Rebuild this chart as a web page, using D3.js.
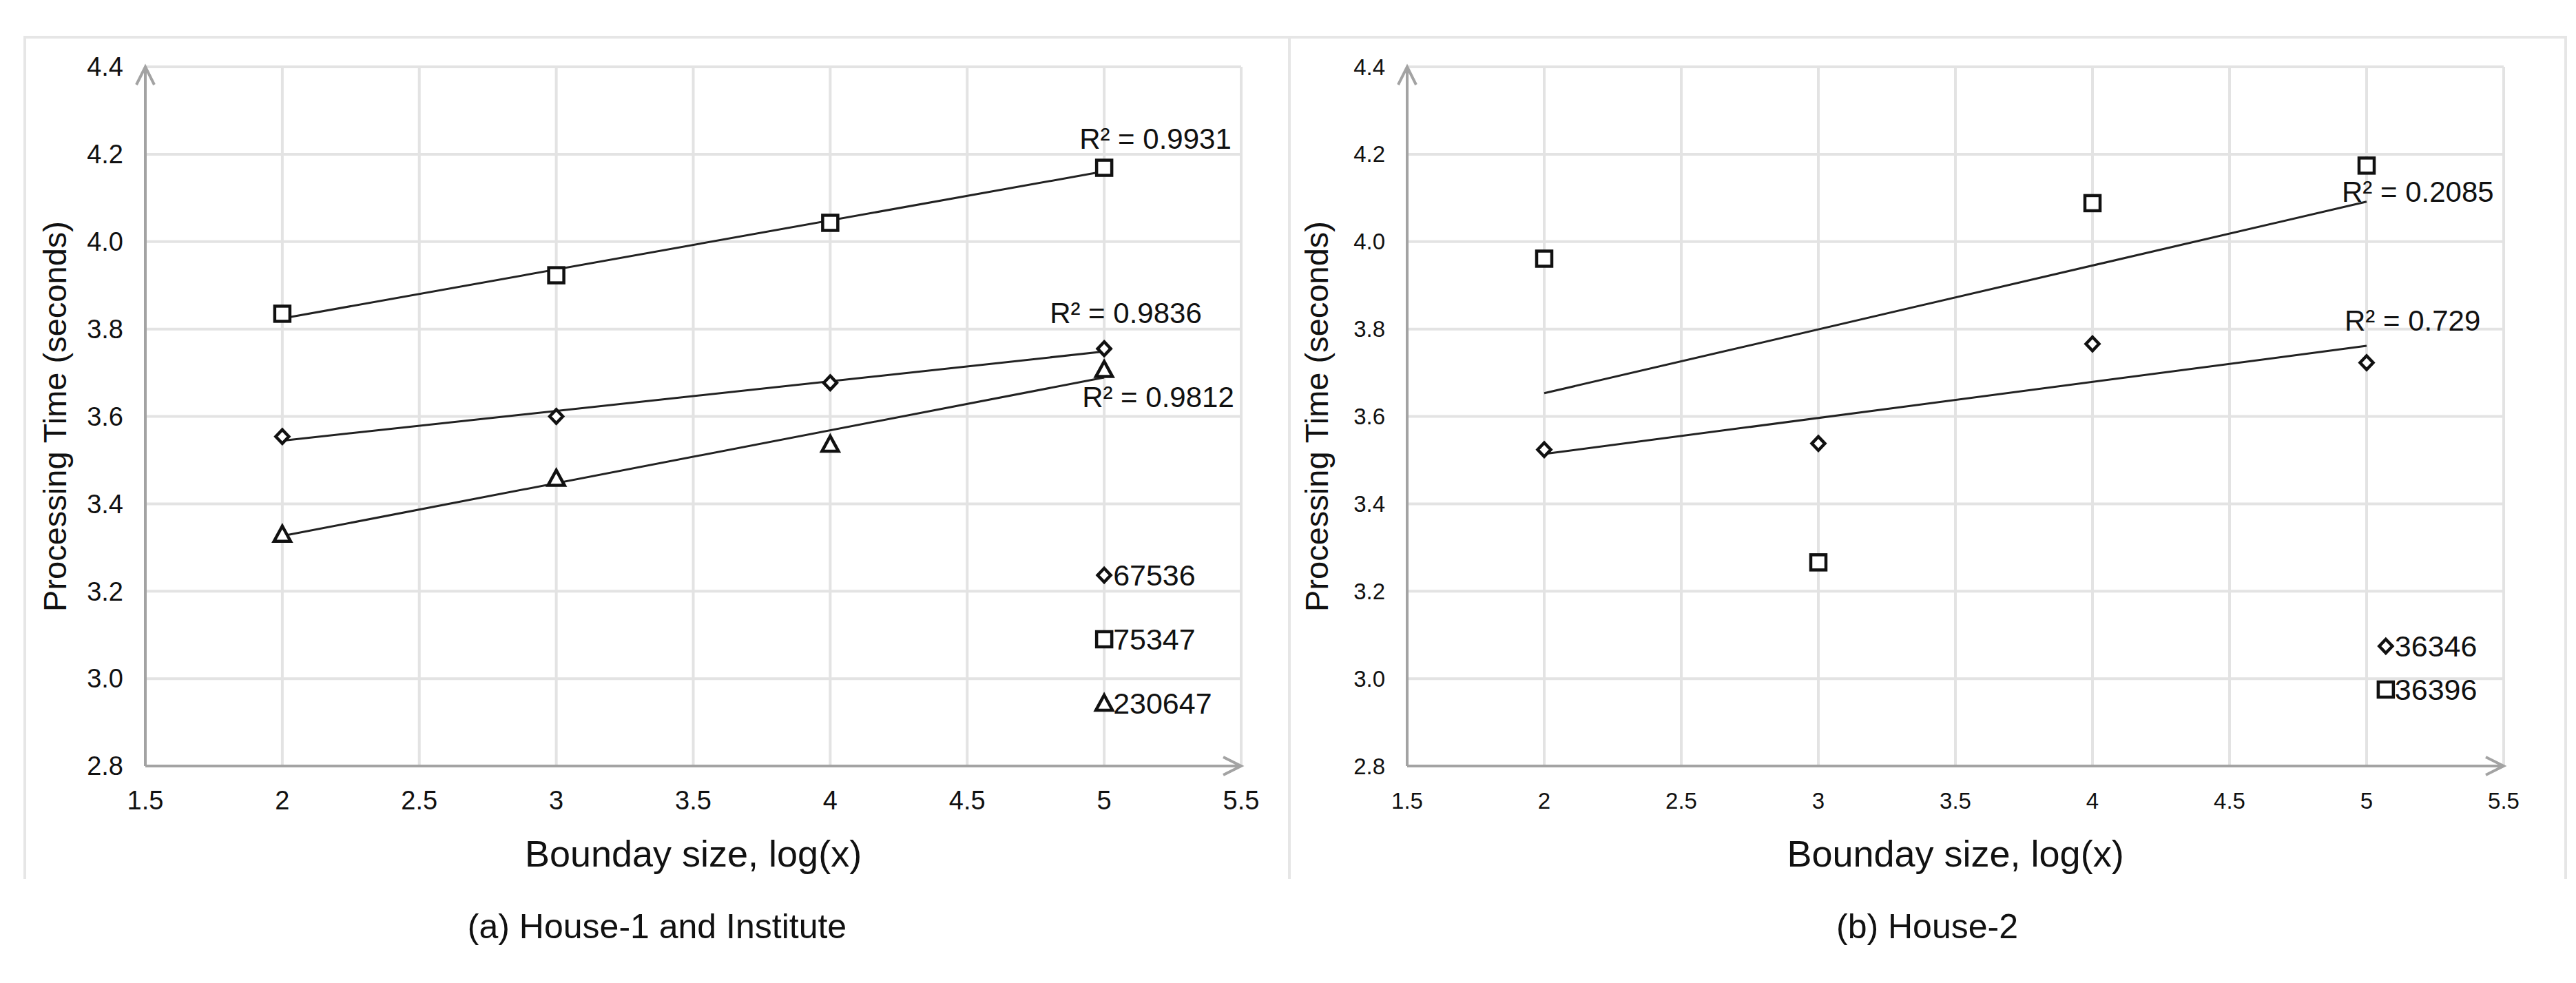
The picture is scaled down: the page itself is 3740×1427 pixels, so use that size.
<!DOCTYPE html>
<html>
<head>
<meta charset="utf-8">
<script src="https://cdn.jsdelivr.net/npm/d3@7"></script>
<style>
  body { margin: 0; background: #fff; }
  text { font-family: "Liberation Sans", Arial, sans-serif; fill: #111; }
</style>
</head>
<body>
<svg id="chart" width="3740" height="1427"></svg>
<script>
// data
var xVals = [2, 3, 4, 5];
var xTicks = [1.5, 2, 2.5, 3, 3.5, 4, 4.5, 5, 5.5];
var yTicks = [2.8, 3.0, 3.2, 3.4, 3.6, 3.8, 4.0, 4.2, 4.4];

var leftDiamond = [3.554, 3.600, 3.677, 3.755];
var leftSquare = [3.835, 3.923, 4.043, 4.169];
var leftTriangle = [3.330, 3.458, 3.536, 3.707];
var leftNames = ["67536", "75347", "230647"];
var leftR2 = ["R² = 0.9836", "R² = 0.9931", "R² = 0.9812"];

var rightDiamond = [3.524, 3.538, 3.766, 3.723];
var rightSquare = [3.961, 3.266, 4.088, 4.174];
var rightNames = ["36346", "36396"];
var rightR2 = ["R² = 0.729", "R² = 0.2085"];

var captions = ["(a) House-1 and Institute", "(b) House-2"];

var svg = d3.select("#chart");

// panel frames
svg.append("path")
  .attr("d", "M36,1276V54H3725V1276M1872,54V1276")
  .attr("fill", "none").attr("stroke", "#e6e6e6").attr("stroke-width", 4);

// least squares trend line
function fit(ys) {
  var mx = d3.mean(xVals), my = d3.mean(ys), sxy = 0, sxx = 0;
  xVals.forEach(function (x, i) { sxy += (x - mx) * (ys[i] - my); sxx += (x - mx) * (x - mx); });
  var b = sxy / sxx;
  return function (x) { return my + b * (x - mx); };
}

function marker(g, shape, x, y) {
  if (shape == "square") {
    g.append("rect").attr("x", x - 11).attr("y", y - 11).attr("width", 22).attr("height", 22)
      .attr("fill", "#fff").attr("stroke", "#111").attr("stroke-width", 4.5);
  } else if (shape == "diamond") {
    g.append("path").attr("d", "M" + x + "," + (y - 10) + "L" + (x + 9.5) + "," + y + "L" + x + "," + (y + 10) + "L" + (x - 9.5) + "," + y + "Z")
      .attr("fill", "#fff").attr("stroke", "#111").attr("stroke-width", 4.5);
  } else {
    g.append("path").attr("d", "M" + x + "," + (y - 12) + "L" + (x + 12) + "," + (y + 10) + "L" + (x - 12) + "," + (y + 10) + "Z")
      .attr("fill", "#fff").attr("stroke", "#111").attr("stroke-width", 4.5).attr("stroke-linejoin", "miter");
  }
}

function panel(opt) {
  var x = d3.scaleLinear().domain([1.5, 5.5]).range([opt.x0, opt.x1]);
  var y = d3.scaleLinear().domain([2.8, 4.4]).range([1112, 97]);
  var g = svg.append("g");

  // grid
  g.append("g").selectAll("line").data(xTicks.slice(1)).enter().append("line")
    .attr("x1", function (d) { return x(d); }).attr("x2", function (d) { return x(d); })
    .attr("y1", y(4.4)).attr("y2", y(2.8))
    .attr("stroke", "#e3e3e3").attr("stroke-width", 4);
  g.append("g").selectAll("line").data(yTicks.slice(1)).enter().append("line")
    .attr("x1", x(1.5)).attr("x2", x(5.5))
    .attr("y1", function (d) { return y(d); }).attr("y2", function (d) { return y(d); })
    .attr("stroke", "#e3e3e3").attr("stroke-width", 4);

  // axes with arrow heads
  var ax = "#a3a3a3";
  g.append("path")
    .attr("d", "M" + x(1.5) + "," + y(2.8) + "V" + y(4.4) + "M" + (x(1.5) - 13) + "," + (y(4.4) + 26) + "L" + x(1.5) + "," + y(4.4) + "L" + (x(1.5) + 13) + "," + (y(4.4) + 26) +
      "M" + x(1.5) + "," + y(2.8) + "H" + x(5.5) + "M" + (x(5.5) - 26) + "," + (y(2.8) - 13) + "L" + x(5.5) + "," + y(2.8) + "L" + (x(5.5) - 26) + "," + (y(2.8) + 13))
    .attr("fill", "none").attr("stroke", ax).attr("stroke-width", 4);

  // tick labels
  var fmtY = d3.format(".1f");
  g.append("g").selectAll("text").data(yTicks).enter().append("text")
    .attr("x", x(1.5) - 32).attr("y", function (d) { return y(d); })
    .attr("dy", "0.35em").attr("text-anchor", "end").attr("font-size", opt.tick)
    .text(function (d) { return fmtY(d); });
  g.append("g").selectAll("text").data(xTicks).enter().append("text")
    .attr("x", function (d) { return x(d); }).attr("y", y(2.8) + 50)
    .attr("dy", "0.35em").attr("text-anchor", "middle").attr("font-size", opt.tick)
    .text(function (d) { return d; });

  // titles
  g.append("text").attr("x", (x(1.5) + x(5.5)) / 2).attr("y", 1258)
    .attr("text-anchor", "middle").attr("font-size", 54).text("Bounday size, log(x)");
  g.append("text").attr("transform", "translate(" + (opt.x0 - 115) + "," + y(3.6) + ") rotate(-90)")
    .attr("text-anchor", "middle").attr("font-size", 47).text("Processing Time (seconds)");
  g.append("text").attr("x", opt.cx).attr("y", 1362)
    .attr("text-anchor", "middle").attr("font-size", 50).text(opt.caption);

  // series: trend line, markers, R² label, legend entry
  opt.series.forEach(function (s, k) {
    var f = fit(s.ys);
    g.append("line")
      .attr("x1", x(2)).attr("y1", y(f(2))).attr("x2", x(5)).attr("y2", y(f(5)))
      .attr("stroke", "#222").attr("stroke-width", 3);
    s.ys.forEach(function (v, i) { marker(g, s.shape, x(xVals[i]), y(v)); });
    g.append("text").attr("x", x(5) + s.lab[0]).attr("y", y(f(5)) + s.lab[1])
      .attr("font-size", 42).text(s.r2);
    var lx = x(opt.legX), ly = opt.legY + k * opt.legStep;
    marker(g, s.shape, lx, ly);
    g.append("text").attr("x", lx + 13).attr("y", ly).attr("dy", "0.35em")
      .attr("font-size", 43).text(s.name);
  });
}

panel({
  x0: 211, x1: 1802, cx: 954, tick: 38, caption: captions[0],
  legX: 5, legY: 835, legStep: 93,
  series: [
    { ys: leftDiamond, shape: "diamond", name: leftNames[0], r2: leftR2[0], lab: [-79, -41] },
    { ys: leftSquare, shape: "square", name: leftNames[1], r2: leftR2[1], lab: [-36, -33] },
    { ys: leftTriangle, shape: "triangle", name: leftNames[2], r2: leftR2[2], lab: [-32, 43] }
  ]
});

panel({
  x0: 2043, x1: 3635, cx: 2798, tick: 33, caption: captions[1],
  legX: 5.07, legY: 938, legStep: 63,
  series: [
    { ys: rightDiamond, shape: "diamond", name: rightNames[0], r2: rightR2[0], lab: [-32, -22] },
    { ys: rightSquare, shape: "square", name: rightNames[1], r2: rightR2[1], lab: [-36, 0] }
  ]
});
</script>
</body>
</html>
